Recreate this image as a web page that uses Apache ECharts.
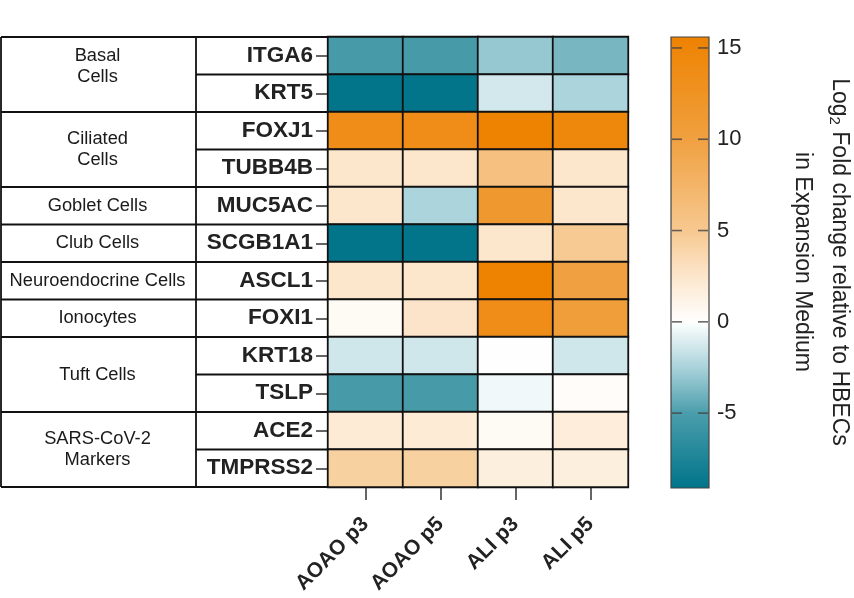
<!DOCTYPE html>
<html><head><meta charset="utf-8">
<script src="https://cdn.jsdelivr.net/npm/echarts@6/dist/echarts.min.js"></script>
<style>html,body{margin:0;padding:0;background:#fff}#c{width:854px;height:598px}</style>
</head><body><div id="c"></div>
<script>
const samples = ['AOAO p3', 'AOAO p5', 'ALI p3', 'ALI p5'];
const genes = ['ITGA6', 'KRT5', 'FOXJ1', 'TUBB4B', 'MUC5AC', 'SCGB1A1', 'ASCL1', 'FOXI1', 'KRT18', 'TSLP', 'ACE2', 'TMPRSS2'];
const groupNames = ['Basal\nCells', 'Ciliated\nCells', 'Goblet Cells', 'Club Cells', 'Neuroendocrine Cells', 'Ionocytes', 'Tuft Cells', 'SARS-CoV-2\nMarkers'];
const groupSizes = [2, 2, 1, 1, 1, 1, 2, 2];
// values per gene (same order as genes)
const aoaoP3 = [-5.2, -9.0, 13.5, 2.5, 2.5, -9.0, 2.5, 0.5, -1.4, -5.2, 2.0, 4.3];
const aoaoP5 = [-5.2, -9.0, 13.5, 2.5, -2.4, -9.0, 2.5, 2.6, -1.4, -5.2, 2.0, 4.3];
const aliP3  = [-3.0, -1.3, 15.5, 6.0, 11.5, 2.5, 15.5, 13.5, 0.0, -0.4, 0.5, 1.6];
const aliP5  = [-3.8, -2.4, 14.5, 2.5, 2.5, 4.8, 10.0, 10.5, -1.4, 0.3, 1.8, 1.6];
const colorTicks = [-5, 0, 5, 10, 15];
const scaleMin = -9.1, scaleMax = 15.6;

// colour anchors (value -> colour) for the diverging scale
const anchors = [
  [-9.1, [0, 116, 138]],
  [-5, [74, 157, 171]],
  [-2.5, [169, 210, 218]],
  [0, [255, 255, 255]],
  [2.5, [252, 230, 204]],
  [5, [247, 200, 144]],
  [10, [240, 160, 64]],
  [15.6, [238, 130, 0]]
];
function colorAt(v) {
  for (let i = 0; i < anchors.length - 1; i++) {
    const [v0, c0] = anchors[i], [v1, c1] = anchors[i + 1];
    if (v <= v1 || i === anchors.length - 2) {
      const t = Math.max(0, Math.min(1, (v - v0) / (v1 - v0)));
      const c = c0.map((x, k) => Math.round(x + (c1[k] - x) * t));
      return 'rgb(' + c.join(',') + ')';
    }
  }
}
const N = 120;
const rampColors = [];
for (let i = 0; i <= N; i++) rampColors.push(colorAt(scaleMin + (scaleMax - scaleMin) * i / N));
const gradStops = [];
for (let i = 0; i <= N; i++) gradStops.push({ offset: i / N, color: colorAt(scaleMax - (scaleMax - scaleMin) * i / N) });

const cols = [aoaoP3, aoaoP5, aliP3, aliP5];
const heatData = [];
cols.forEach((arr, xi) => arr.forEach((v, yi) => heatData.push([xi, yi, v])));
const leftTicks = colorTicks.map(v => [0, v]);
const rightTicks = colorTicks.map(v => [1, v]);

// layout constants
const GX = 328, GY = 37, GW = 300, GH = 450;
const ROW = GH / genes.length;
const TL = 1, TM = 196;
const FONT = 'Liberation Sans, Arial, sans-serif';
const lineStyle = { stroke: '#111', lineWidth: 1.8 };

const graphics = [];
function hline(x1, x2, y) { graphics.push({ type: 'line', shape: { x1, y1: y, x2, y2: y }, style: lineStyle, silent: true }); }
function vline(x, y1, y2) { graphics.push({ type: 'line', shape: { x1: x, y1, x2: x, y2 }, style: lineStyle, silent: true }); }
vline(TL, GY, GY + GH);
vline(TM, GY, GY + GH);
hline(TL, GX, GY);
for (let r = 1; r <= genes.length; r++) hline(TM, GX, GY + r * ROW);
let acc = 0;
groupSizes.forEach((s, gi) => {
  const yTop = GY + acc * ROW;
  acc += s;
  const yBot = GY + acc * ROW;
  hline(TL, TM, yBot);
  graphics.push({
    type: 'text', x: (TL + TM) / 2 - 1, y: (yTop + yBot) / 2 - (gi === 0 ? 8 : 0), silent: true,
    style: { text: groupNames[gi], fontSize: 18.3, fontFamily: FONT, fill: '#1a1a1a', align: 'center', verticalAlign: 'middle', lineHeight: 21 }
  });
});
graphics.push({
  type: 'text', x: 821, y: 262, rotation: -Math.PI / 2, silent: true,
  style: {
    text: '{a|Log}{s|2}{a| Fold change relative to HBECs}\n{a|in Expansion Medium}',
    align: 'center', verticalAlign: 'middle',
    rich: {
      a: { fontSize: 23, fontFamily: FONT, fill: '#222', lineHeight: 37 },
      s: { fontSize: 15, fontFamily: FONT, fill: '#222', lineHeight: 37, padding: [11, 0, 0, 0] }
    }
  }
});

const tickSeries = (data, off) => ({
  type: 'scatter', xAxisIndex: 1, yAxisIndex: 1, data: data, z: 5,
  symbol: 'rect', symbolSize: [10, 1.6], symbolOffset: [off, 0],
  itemStyle: { color: '#444' }, silent: true, emphasis: { disabled: true }
});

const chart = echarts.init(document.getElementById('c'), null, { renderer: 'canvas' });
chart.setOption({
  backgroundColor: '#fff',
  animation: false,
  grid: [
    { left: GX, top: GY, width: GW, height: GH, show: false },
    { left: 671, top: 37, width: 38, height: 451, show: true, borderColor: '#444', borderWidth: 1.2,
      backgroundColor: new echarts.graphic.LinearGradient(0, 0, 0, 1, gradStops) }
  ],
  xAxis: [
    { type: 'category', gridIndex: 0, data: samples, position: 'bottom',
      axisLine: { show: false },
      axisTick: { show: true, alignWithLabel: true, length: 13, lineStyle: { color: '#333', width: 1.5 } },
      axisLabel: { rotate: 45, margin: 34, fontSize: 21, fontWeight: 'bold', color: '#222', fontFamily: FONT },
      splitLine: { show: false } },
    { type: 'value', gridIndex: 1, show: false, min: 0, max: 1 }
  ],
  yAxis: [
    { type: 'category', gridIndex: 0, data: genes, inverse: true,
      axisLine: { show: false },
      axisTick: { show: true, alignWithLabel: true, length: 12, lineStyle: { color: '#333', width: 1.5 } },
      axisLabel: { margin: 15, fontSize: 22.5, fontWeight: 'bold', color: '#222', fontFamily: FONT },
      splitLine: { show: false } },
    { type: 'value', gridIndex: 1, position: 'right', min: scaleMin, max: scaleMax,
      axisLine: { show: false },
      axisTick: { show: false },
      axisLabel: { show: true, customValues: colorTicks, margin: 8, fontSize: 22, color: '#222', fontFamily: FONT },
      splitLine: { show: false } }
  ],
  visualMap: {
    type: 'continuous', show: false, min: scaleMin, max: scaleMax, seriesIndex: 0, dimension: 2,
    inRange: { color: rampColors }
  },
  series: [
    { type: 'heatmap', xAxisIndex: 0, yAxisIndex: 0, data: heatData,
      itemStyle: { borderColor: '#111', borderWidth: 1.8 },
      emphasis: { disabled: true } },
    tickSeries(leftTicks, 6),
    tickSeries(rightTicks, -6)
  ],
  graphic: graphics
});
</script></body></html>
